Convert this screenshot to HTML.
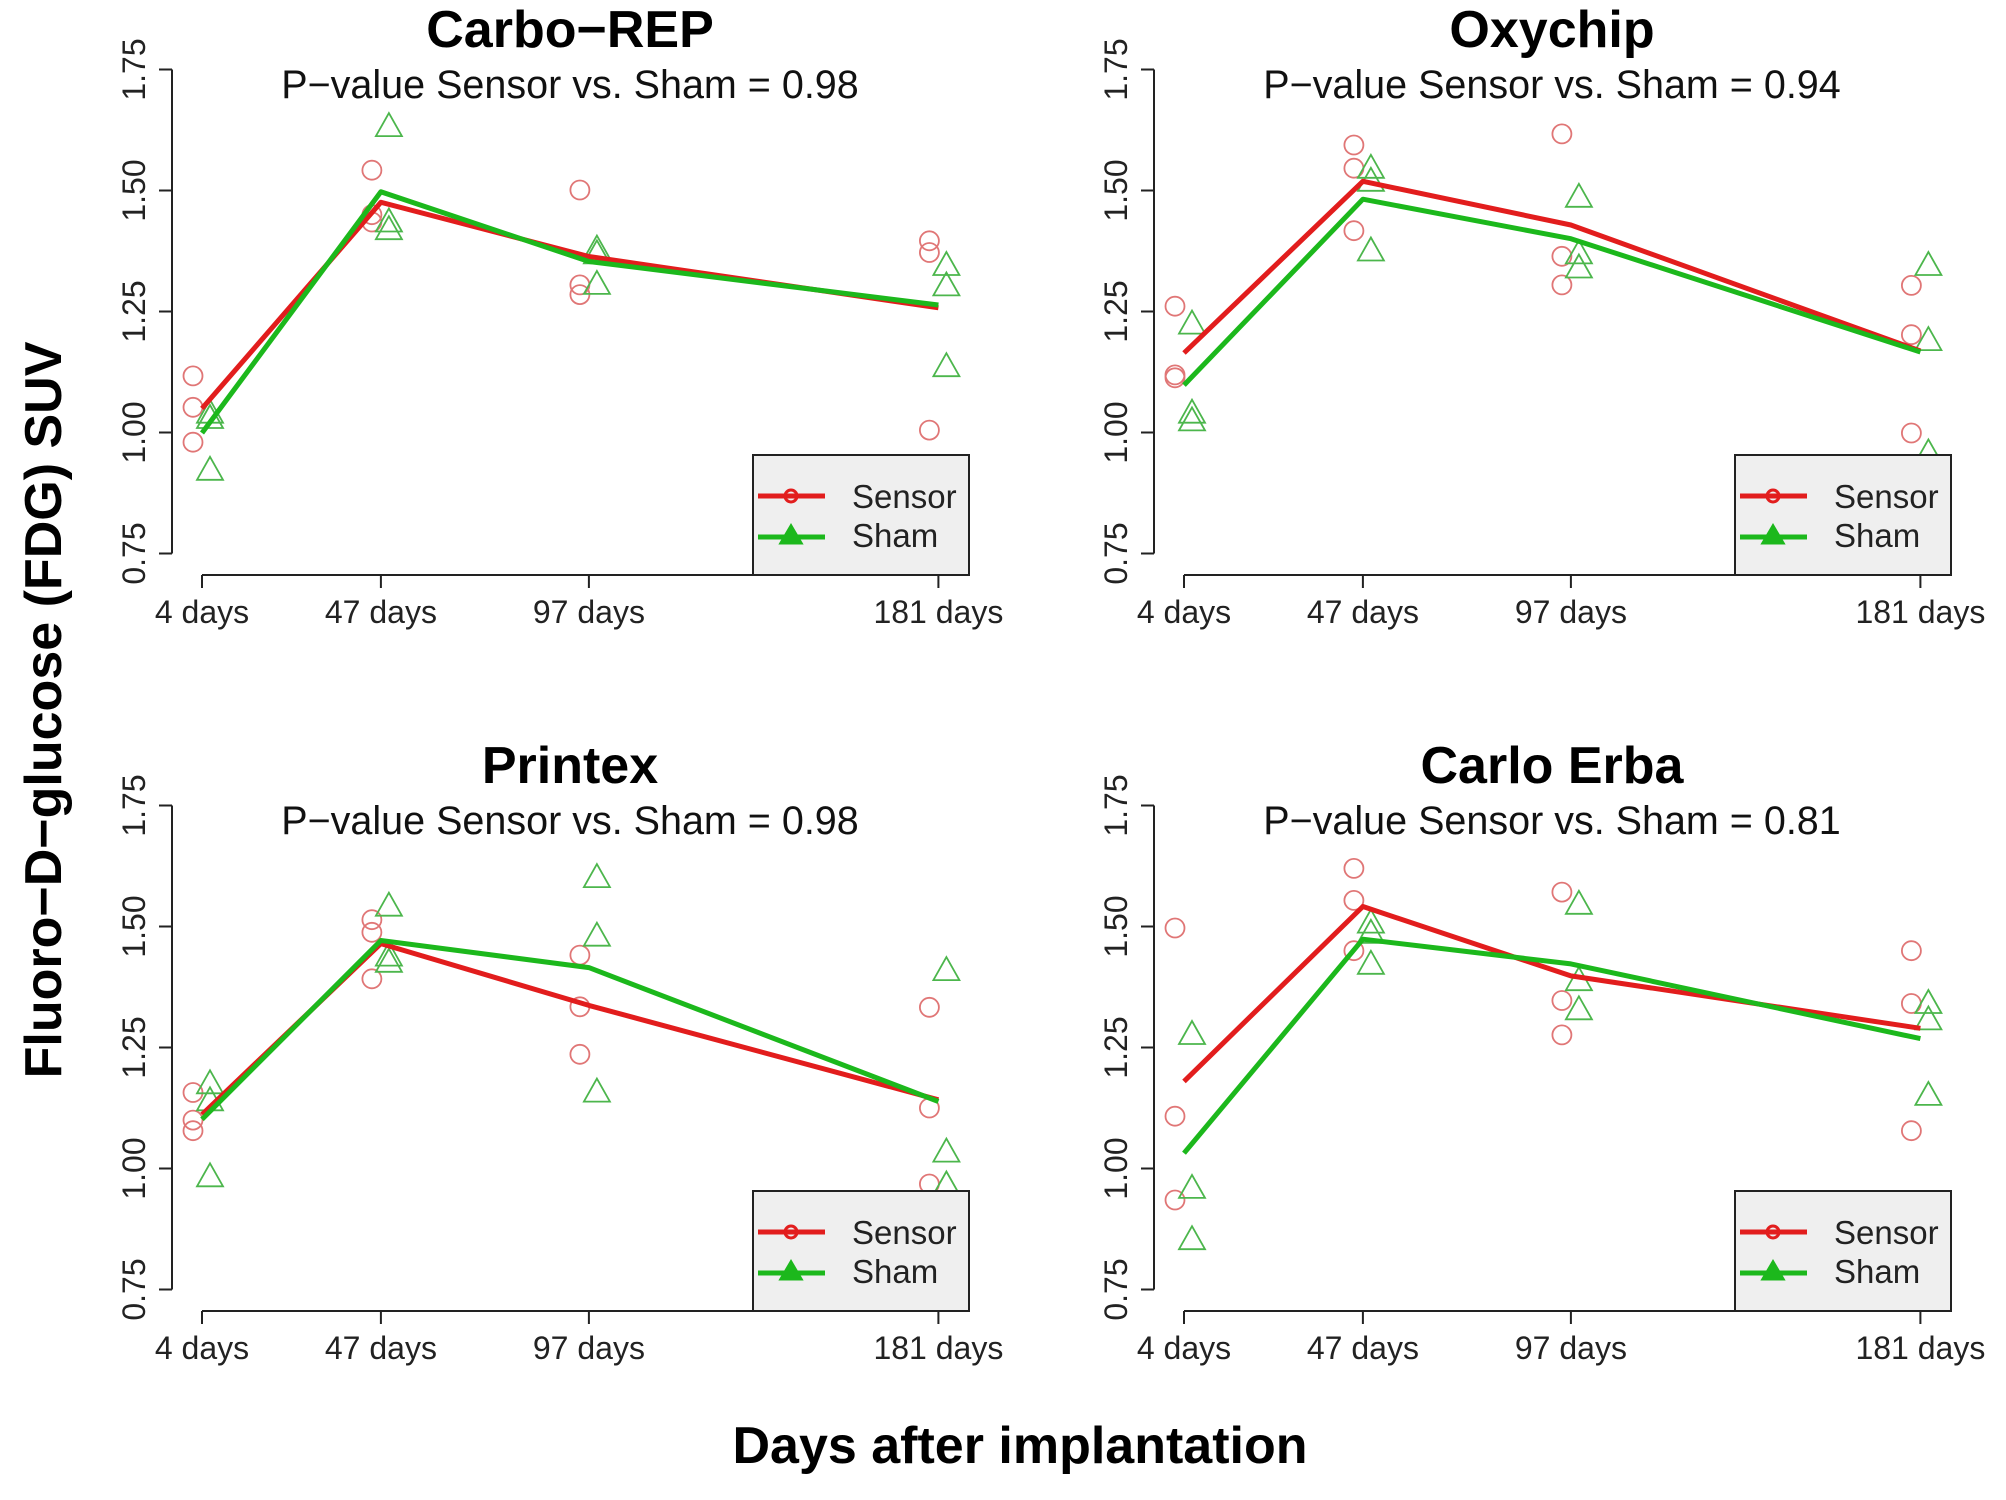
<!DOCTYPE html>
<html><head><meta charset="utf-8"><style>
html,body{margin:0;padding:0;background:#fff;}
svg{display:block;font-family:"Liberation Sans",Arial,sans-serif;}
.ax{stroke:#222;stroke-width:2;fill:none;}
.tk{font-size:32px;fill:#222;}
.tt{font-size:52px;font-weight:bold;fill:#000;}
.st{font-size:39.5px;fill:#111;}
.lg{font-size:33px;fill:#222;}
.cs{fill:none;stroke:#e07676;stroke-width:1.8;}
.ts{fill:none;stroke:#4cb64c;stroke-width:1.8;}
.lr{fill:none;stroke:#e21d1d;stroke-width:5;stroke-linejoin:round;}
.lgn{fill:none;stroke:#1cb81c;stroke-width:5;stroke-linejoin:round;}
</style></head><body>
<svg width="2006" height="1500" viewBox="0 0 2006 1500">
<defs>
<path id="tri" d="M0,-12.5 L-13,10.5 L13,10.5 Z"/>
</defs>
<rect width="2006" height="1500" fill="#fff"/>

<!-- ============ TL: Carbo-REP ============ -->
<g>
<path class="ax" d="M172,69.5V553.5 M159,69.5H172 M159,190.5H172 M159,311.5H172 M159,432.5H172 M159,553.5H172"/>
<path class="ax" d="M202,575H938.4 M202,575V588 M380.9,575V588 M588.9,575V588 M938.4,575V588"/>
<text class="tk" transform="translate(145,69.5) rotate(-90)" text-anchor="middle">1.75</text>
<text class="tk" transform="translate(145,190.5) rotate(-90)" text-anchor="middle">1.50</text>
<text class="tk" transform="translate(145,311.5) rotate(-90)" text-anchor="middle">1.25</text>
<text class="tk" transform="translate(145,432.5) rotate(-90)" text-anchor="middle">1.00</text>
<text class="tk" transform="translate(145,553.5) rotate(-90)" text-anchor="middle">0.75</text>
<text class="tk" x="202" y="623" text-anchor="middle">4 days</text>
<text class="tk" x="380.9" y="623" text-anchor="middle">47 days</text>
<text class="tk" x="588.9" y="623" text-anchor="middle">97 days</text>
<text class="tk" x="938.4" y="623" text-anchor="middle">181 days</text>
<text class="tt" x="570" y="47" text-anchor="middle">Carbo−REP</text>
<text class="st" x="570" y="98" text-anchor="middle">P−value Sensor vs. Sham = 0.98</text>
<g class="cs">
<circle cx="193" cy="375.9" r="9.5"/><circle cx="193" cy="407.3" r="9.5"/><circle cx="193" cy="442.2" r="9.5"/>
<circle cx="371.9" cy="170.2" r="9.5"/><circle cx="371.9" cy="214.7" r="9.5"/><circle cx="371.9" cy="222" r="9.5"/>
<circle cx="579.9" cy="190" r="9.5"/><circle cx="579.9" cy="284.9" r="9.5"/><circle cx="579.9" cy="294.6" r="9.5"/>
<circle cx="929.4" cy="240.8" r="9.5"/><circle cx="929.4" cy="252.5" r="9.5"/><circle cx="929.4" cy="430.1" r="9.5"/>
</g>
<g class="ts">
<use href="#tri" x="210" y="417.5"/><use href="#tri" x="210" y="412.2"/><use href="#tri" x="210" y="469.3"/>
<use href="#tri" x="388.9" y="125.6"/><use href="#tri" x="388.9" y="221"/><use href="#tri" x="388.9" y="228.7"/>
<use href="#tri" x="596.9" y="248.1"/><use href="#tri" x="596.9" y="252.9"/><use href="#tri" x="596.9" y="283.4"/>
<use href="#tri" x="946.4" y="264.5"/><use href="#tri" x="946.4" y="284.9"/><use href="#tri" x="946.4" y="365.7"/>
</g>
<polyline class="lr" points="202,408.5 380.9,202.3 588.9,256.5 938.4,307.8"/>
<polyline class="lgn" points="202,433 380.9,191.8 588.9,261.5 938.4,305"/>
<rect x="753" y="455" width="216" height="120" fill="#efefef" stroke="#222" stroke-width="2"/>
<line x1="758" y1="496" x2="825" y2="496" stroke="#e21d1d" stroke-width="5"/>
<circle cx="791" cy="496" r="6" fill="none" stroke="#e21d1d" stroke-width="3"/>
<line x1="758" y1="537" x2="825" y2="537" stroke="#1cb81c" stroke-width="5"/>
<path d="M791,526 L781,543 L801,543 Z" fill="#1cb81c" stroke="#1cb81c" stroke-width="3"/>
<text class="lg" x="852" y="508">Sensor</text>
<text class="lg" x="852" y="547">Sham</text>
</g>

<!-- ============ TR: Oxychip ============ -->
<g transform="translate(982,0)">
<path class="ax" d="M172,69.5V553.5 M159,69.5H172 M159,190.5H172 M159,311.5H172 M159,432.5H172 M159,553.5H172"/>
<path class="ax" d="M202,575H938.4 M202,575V588 M380.9,575V588 M588.9,575V588 M938.4,575V588"/>
<text class="tk" transform="translate(145,69.5) rotate(-90)" text-anchor="middle">1.75</text>
<text class="tk" transform="translate(145,190.5) rotate(-90)" text-anchor="middle">1.50</text>
<text class="tk" transform="translate(145,311.5) rotate(-90)" text-anchor="middle">1.25</text>
<text class="tk" transform="translate(145,432.5) rotate(-90)" text-anchor="middle">1.00</text>
<text class="tk" transform="translate(145,553.5) rotate(-90)" text-anchor="middle">0.75</text>
<text class="tk" x="202" y="623" text-anchor="middle">4 days</text>
<text class="tk" x="380.9" y="623" text-anchor="middle">47 days</text>
<text class="tk" x="588.9" y="623" text-anchor="middle">97 days</text>
<text class="tk" x="938.4" y="623" text-anchor="middle">181 days</text>
<text class="tt" x="570" y="47" text-anchor="middle">Oxychip</text>
<text class="st" x="570" y="98" text-anchor="middle">P−value Sensor vs. Sham = 0.94</text>
<g class="cs">
<circle cx="193" cy="306.2" r="9.5"/><circle cx="193" cy="374.9" r="9.5"/><circle cx="193" cy="377.8" r="9.5"/>
<circle cx="371.9" cy="145" r="9.5"/><circle cx="371.9" cy="168.2" r="9.5"/><circle cx="371.9" cy="230.7" r="9.5"/>
<circle cx="579.9" cy="133.9" r="9.5"/><circle cx="579.9" cy="256.3" r="9.5"/><circle cx="579.9" cy="284.9" r="9.5"/>
<circle cx="929.4" cy="285.4" r="9.5"/><circle cx="929.4" cy="334.7" r="9.5"/><circle cx="929.4" cy="433" r="9.5"/>
</g>
<g class="ts">
<use href="#tri" x="210" y="323.1"/><use href="#tri" x="210" y="412.2"/><use href="#tri" x="210" y="419.9"/>
<use href="#tri" x="388.9" y="167.3"/><use href="#tri" x="388.9" y="180.3"/><use href="#tri" x="388.9" y="250"/>
<use href="#tri" x="596.9" y="196.3"/><use href="#tri" x="596.9" y="252.9"/><use href="#tri" x="596.9" y="267"/>
<use href="#tri" x="946.4" y="264.5"/><use href="#tri" x="946.4" y="339.6"/><use href="#tri" x="946.4" y="451.9"/>
</g>
<polyline class="lr" points="202,353 380.9,181.3 588.9,225 938.4,351"/>
<polyline class="lgn" points="202,385.1 380.9,199.2 588.9,238.7 938.4,352"/>
<rect x="753" y="455" width="216" height="120" fill="#efefef" stroke="#222" stroke-width="2"/>
<line x1="758" y1="496" x2="825" y2="496" stroke="#e21d1d" stroke-width="5"/>
<circle cx="791" cy="496" r="6" fill="none" stroke="#e21d1d" stroke-width="3"/>
<line x1="758" y1="537" x2="825" y2="537" stroke="#1cb81c" stroke-width="5"/>
<path d="M791,526 L781,543 L801,543 Z" fill="#1cb81c" stroke="#1cb81c" stroke-width="3"/>
<text class="lg" x="852" y="508">Sensor</text>
<text class="lg" x="852" y="547">Sham</text>
</g>

<!-- ============ BL: Printex ============ -->
<g transform="translate(0,736)">
<path class="ax" d="M172,69.5V553.5 M159,69.5H172 M159,190.5H172 M159,311.5H172 M159,432.5H172 M159,553.5H172"/>
<path class="ax" d="M202,575H938.4 M202,575V588 M380.9,575V588 M588.9,575V588 M938.4,575V588"/>
<text class="tk" transform="translate(145,69.5) rotate(-90)" text-anchor="middle">1.75</text>
<text class="tk" transform="translate(145,190.5) rotate(-90)" text-anchor="middle">1.50</text>
<text class="tk" transform="translate(145,311.5) rotate(-90)" text-anchor="middle">1.25</text>
<text class="tk" transform="translate(145,432.5) rotate(-90)" text-anchor="middle">1.00</text>
<text class="tk" transform="translate(145,553.5) rotate(-90)" text-anchor="middle">0.75</text>
<text class="tk" x="202" y="623" text-anchor="middle">4 days</text>
<text class="tk" x="380.9" y="623" text-anchor="middle">47 days</text>
<text class="tk" x="588.9" y="623" text-anchor="middle">97 days</text>
<text class="tk" x="938.4" y="623" text-anchor="middle">181 days</text>
<text class="tt" x="570" y="47" text-anchor="middle">Printex</text>
<text class="st" x="570" y="98" text-anchor="middle">P−value Sensor vs. Sham = 0.98</text>
<g class="cs">
<circle cx="193" cy="356.5" r="9.5"/><circle cx="193" cy="384.1" r="9.5"/><circle cx="193" cy="394.7" r="9.5"/>
<circle cx="371.9" cy="183.7" r="9.5"/><circle cx="371.9" cy="196.3" r="9.5"/><circle cx="371.9" cy="242.8" r="9.5"/>
<circle cx="579.9" cy="219.1" r="9.5"/><circle cx="579.9" cy="270.8" r="9.5"/><circle cx="579.9" cy="318.3" r="9.5"/>
<circle cx="929.4" cy="271.3" r="9.5"/><circle cx="929.4" cy="372" r="9.5"/><circle cx="929.4" cy="448" r="9.5"/>
</g>
<g class="ts">
<use href="#tri" x="210" y="346.8"/><use href="#tri" x="210" y="363.8"/><use href="#tri" x="210" y="439.8"/>
<use href="#tri" x="388.9" y="169.2"/><use href="#tri" x="388.9" y="219.1"/><use href="#tri" x="388.9" y="225.3"/>
<use href="#tri" x="596.9" y="140.6"/><use href="#tri" x="596.9" y="199.2"/><use href="#tri" x="596.9" y="355.1"/>
<use href="#tri" x="946.4" y="233.6"/><use href="#tri" x="946.4" y="415.1"/><use href="#tri" x="946.4" y="448"/>
</g>
<polyline class="lr" points="202,378.5 380.9,207.6 588.9,269.4 938.4,363.8"/>
<polyline class="lgn" points="202,383.4 380.9,204.5 588.9,231.6 938.4,365.5"/>
<rect x="753" y="455" width="216" height="120" fill="#efefef" stroke="#222" stroke-width="2"/>
<line x1="758" y1="496" x2="825" y2="496" stroke="#e21d1d" stroke-width="5"/>
<circle cx="791" cy="496" r="6" fill="none" stroke="#e21d1d" stroke-width="3"/>
<line x1="758" y1="537" x2="825" y2="537" stroke="#1cb81c" stroke-width="5"/>
<path d="M791,526 L781,543 L801,543 Z" fill="#1cb81c" stroke="#1cb81c" stroke-width="3"/>
<text class="lg" x="852" y="508">Sensor</text>
<text class="lg" x="852" y="547">Sham</text>
</g>

<!-- ============ BR: Carlo Erba ============ -->
<g transform="translate(982,736)">
<path class="ax" d="M172,69.5V553.5 M159,69.5H172 M159,190.5H172 M159,311.5H172 M159,432.5H172 M159,553.5H172"/>
<path class="ax" d="M202,575H938.4 M202,575V588 M380.9,575V588 M588.9,575V588 M938.4,575V588"/>
<text class="tk" transform="translate(145,69.5) rotate(-90)" text-anchor="middle">1.75</text>
<text class="tk" transform="translate(145,190.5) rotate(-90)" text-anchor="middle">1.50</text>
<text class="tk" transform="translate(145,311.5) rotate(-90)" text-anchor="middle">1.25</text>
<text class="tk" transform="translate(145,432.5) rotate(-90)" text-anchor="middle">1.00</text>
<text class="tk" transform="translate(145,553.5) rotate(-90)" text-anchor="middle">0.75</text>
<text class="tk" x="202" y="623" text-anchor="middle">4 days</text>
<text class="tk" x="380.9" y="623" text-anchor="middle">47 days</text>
<text class="tk" x="588.9" y="623" text-anchor="middle">97 days</text>
<text class="tk" x="938.4" y="623" text-anchor="middle">181 days</text>
<text class="tt" x="570" y="47" text-anchor="middle">Carlo Erba</text>
<text class="st" x="570" y="98" text-anchor="middle">P−value Sensor vs. Sham = 0.81</text>
<g class="cs">
<circle cx="193" cy="192" r="9.5"/><circle cx="193" cy="380.2" r="9.5"/><circle cx="193" cy="464" r="9.5"/>
<circle cx="371.9" cy="132.4" r="9.5"/><circle cx="371.9" cy="164.4" r="9.5"/><circle cx="371.9" cy="214.7" r="9.5"/>
<circle cx="579.9" cy="156.1" r="9.5"/><circle cx="579.9" cy="264.5" r="9.5"/><circle cx="579.9" cy="298.9" r="9.5"/>
<circle cx="929.4" cy="214.7" r="9.5"/><circle cx="929.4" cy="267.5" r="9.5"/><circle cx="929.4" cy="394.7" r="9.5"/>
</g>
<g class="ts">
<use href="#tri" x="210" y="297.5"/><use href="#tri" x="210" y="451.4"/><use href="#tri" x="210" y="502.7"/>
<use href="#tri" x="388.9" y="186.1"/><use href="#tri" x="388.9" y="196.3"/><use href="#tri" x="388.9" y="227.3"/>
<use href="#tri" x="596.9" y="167.3"/><use href="#tri" x="596.9" y="243.7"/><use href="#tri" x="596.9" y="272.8"/>
<use href="#tri" x="946.4" y="266.5"/><use href="#tri" x="946.4" y="282.9"/><use href="#tri" x="946.4" y="358.4"/>
</g>
<polyline class="lr" points="202,345.4 380.9,170.5 588.9,239.9 938.4,292.3"/>
<polyline class="lgn" points="202,417.2 380.9,203.2 588.9,227.9 938.4,302.6"/>
<rect x="753" y="455" width="216" height="120" fill="#efefef" stroke="#222" stroke-width="2"/>
<line x1="758" y1="496" x2="825" y2="496" stroke="#e21d1d" stroke-width="5"/>
<circle cx="791" cy="496" r="6" fill="none" stroke="#e21d1d" stroke-width="3"/>
<line x1="758" y1="537" x2="825" y2="537" stroke="#1cb81c" stroke-width="5"/>
<path d="M791,526 L781,543 L801,543 Z" fill="#1cb81c" stroke="#1cb81c" stroke-width="3"/>
<text class="lg" x="852" y="508">Sensor</text>
<text class="lg" x="852" y="547">Sham</text>
</g>

<!-- outer labels -->
<text transform="translate(61,710) rotate(-90)" text-anchor="middle" font-size="52" font-weight="bold" fill="#000">Fluoro−D−glucose (FDG) SUV</text>
<text x="1020" y="1463" text-anchor="middle" font-size="52" font-weight="bold" fill="#000">Days after implantation</text>
</svg>
</body></html>
